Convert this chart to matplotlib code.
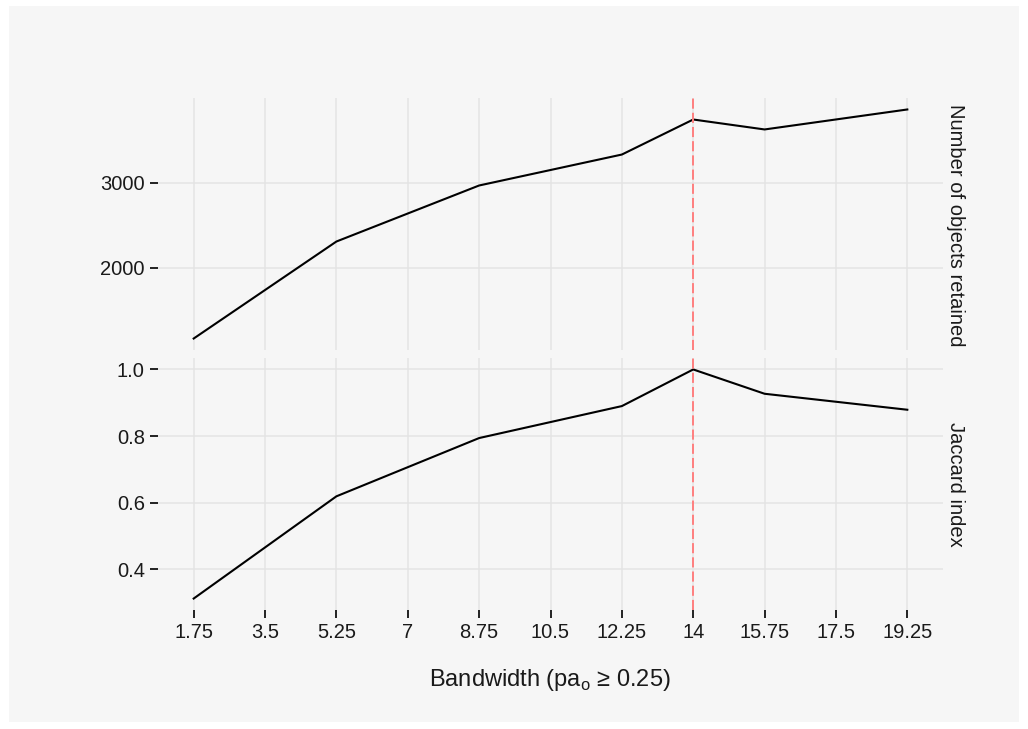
import matplotlib
matplotlib.use("Agg")
import matplotlib.pyplot as plt
from matplotlib.patches import Rectangle

plt.rcParams['font.family'] = ['Liberation Sans', 'DejaVu Sans']
plt.rcParams['mathtext.fontset'] = 'custom'
plt.rcParams['mathtext.rm'] = 'Liberation Sans'

# bandwidth sweep results
bandwidth = [1.75, 5.25, 8.75, 12.25, 14, 15.75, 19.25]
n_retained = [1165, 2306, 2965, 3329, 3741, 3624, 3859]
jaccard_bw = [1.75, 5.25, 8.75, 12.25, 14, 15.75, 19.25]
jaccard = [0.312, 0.619, 0.794, 0.890, 1.0, 0.927, 0.879]

x_ticks = [1.75, 3.5, 5.25, 7, 8.75, 10.5, 12.25, 14, 15.75, 17.5, 19.25]
x_ticklabels = ['1.75', '3.5', '5.25', '7', '8.75', '10.5', '12.25', '14', '15.75', '17.5', '19.25']
chosen_bw = 14

W, H = 1028, 729
bg = '#f6f6f6'
grid_col = '#e4e4e4'
fs = 14.5

fig = plt.figure(figsize=(W / 100, H / 100), dpi=100)
fig.patch.set_facecolor('white')
fig.patches.append(Rectangle((9 / W, 7 / H), 1010 / W, 716 / H, transform=fig.transFigure,
                             facecolor=bg, edgecolor='none', zorder=-10))


def panel(top_px, bottom_px):
    ax = fig.add_axes([158 / W, 1 - bottom_px / H, 785 / W, (bottom_px - top_px) / H])
    ax.set_facecolor(bg)
    for s in ax.spines.values():
        s.set_visible(False)
    ax.grid(True, color=grid_col, linewidth=1.1)
    ax.set_axisbelow(True)
    ax.tick_params(length=5.5, width=1.4, color='#222222', labelsize=fs, pad=4,
                   labelcolor='#1a1a1a')
    ax.set_xlim(1.75 - 0.875, 19.25 + 0.875)
    ax.set_xticks(x_ticks)
    return ax


ax1 = panel(98, 350)
ax1.plot(bandwidth, n_retained, color='black', linewidth=1.5)
ax1.set_ylim(1030, 3994)
ax1.set_yticks([2000, 3000])
ax1.tick_params(axis='x', length=0, labelbottom=False)

ax2 = panel(358, 610)
ax2.plot(jaccard_bw, jaccard, color='black', linewidth=1.5)
lo, hi = min(jaccard), max(jaccard)
pad = (hi - lo) * 0.05
ax2.set_ylim(lo - pad, hi + pad)
ax2.set_yticks([0.4, 0.6, 0.8, 1.0])
ax2.set_yticklabels(['0.4', '0.6', '0.8', '1.0'])
ax2.set_xticklabels(x_ticklabels)

# chosen bandwidth marker
for ax in (ax1, ax2):
    ax.axvline(chosen_bw, color='#ff7f7f', linewidth=1.4, dashes=(5.2, 2.1))

fig.text(956 / W, 1 - 225 / H, 'Number of objects retained', rotation=-90,
         ha='center', va='center', fontsize=fs, color='#1a1a1a')
fig.text(956 / W, 1 - 484 / H, 'Jaccard index', rotation=-90,
         ha='center', va='center', fontsize=fs, color='#1a1a1a')
fig.text(550 / W, 1 - 680 / H, r'Bandwidth (pa$_\mathrm{o}$ ≥ 0.25)',
         ha='center', va='center', fontsize=17, color='#1a1a1a')

fig.savefig('out.png', dpi=100, facecolor=fig.get_facecolor())
